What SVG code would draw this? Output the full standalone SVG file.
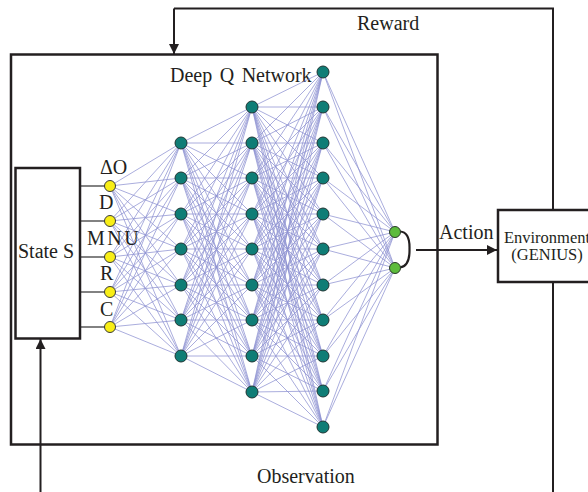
<svg xmlns="http://www.w3.org/2000/svg" width="588" height="492" viewBox="0 0 588 492">
<defs>
<style>
.t{font-family:"Liberation Serif","Times New Roman",serif;font-size:20px;fill:#231f20}
.box{fill:none;stroke:#231f20;stroke-width:2.5}
.wire{fill:none;stroke:#231f20;stroke-width:2}
.syn{fill:none;stroke:#8d91d2;stroke-width:0.75}
.y{fill:#f8ee16;stroke:#3a3a3a;stroke-width:1}
.h{fill:#0f7d76;stroke:#1f3533;stroke-width:1}
.o{fill:#5cbb3c;stroke:#2a3a2a;stroke-width:1}
</style>
<marker id="ah" viewBox="0 0 10 10" refX="10" refY="5" markerWidth="10" markerHeight="10" markerUnits="userSpaceOnUse" orient="auto">
<path d="M0 0L10 5L0 10z" fill="#231f20"/>
</marker>
</defs>
<rect width="588" height="492" fill="#fff"/>

<g id="dqn">
<rect class="box" x="11" y="54.5" width="426.5" height="390"/>
<text class="t" x="170" y="82" style="word-spacing:2.5px">Deep Q Network</text>
</g>

<g id="connectors">
<path class="syn" d="M110 186L181 143M110 186L181 178M110 186L181 214M110 186L181 249M110 186L181 285M110 186L181 320M110 186L181 356M110 221L181 143M110 221L181 178M110 221L181 214M110 221L181 249M110 221L181 285M110 221L181 320M110 221L181 356M110 257L181 143M110 257L181 178M110 257L181 214M110 257L181 249M110 257L181 285M110 257L181 320M110 257L181 356M110 292L181 143M110 292L181 178M110 292L181 214M110 292L181 249M110 292L181 285M110 292L181 320M110 292L181 356M110 327L181 143M110 327L181 178M110 327L181 214M110 327L181 249M110 327L181 285M110 327L181 320M110 327L181 356"/>
<path class="syn" d="M181 143L252 107M181 143L252 143M181 143L252 178M181 143L252 214M181 143L252 249M181 143L252 285M181 143L252 320M181 143L252 356M181 143L252 392M181 178L252 107M181 178L252 143M181 178L252 178M181 178L252 214M181 178L252 249M181 178L252 285M181 178L252 320M181 178L252 356M181 178L252 392M181 214L252 107M181 214L252 143M181 214L252 178M181 214L252 214M181 214L252 249M181 214L252 285M181 214L252 320M181 214L252 356M181 214L252 392M181 249L252 107M181 249L252 143M181 249L252 178M181 249L252 214M181 249L252 249M181 249L252 285M181 249L252 320M181 249L252 356M181 249L252 392M181 285L252 107M181 285L252 143M181 285L252 178M181 285L252 214M181 285L252 249M181 285L252 285M181 285L252 320M181 285L252 356M181 285L252 392M181 320L252 107M181 320L252 143M181 320L252 178M181 320L252 214M181 320L252 249M181 320L252 285M181 320L252 320M181 320L252 356M181 320L252 392M181 356L252 107M181 356L252 143M181 356L252 178M181 356L252 214M181 356L252 249M181 356L252 285M181 356L252 320M181 356L252 356M181 356L252 392"/>
<path class="syn" d="M252 107L323 72M252 107L323 107M252 107L323 143M252 107L323 178M252 107L323 214M252 107L323 249M252 107L323 285M252 107L323 320M252 107L323 356M252 107L323 391M252 107L323 427M252 143L323 72M252 143L323 107M252 143L323 143M252 143L323 178M252 143L323 214M252 143L323 249M252 143L323 285M252 143L323 320M252 143L323 356M252 143L323 391M252 143L323 427M252 178L323 72M252 178L323 107M252 178L323 143M252 178L323 178M252 178L323 214M252 178L323 249M252 178L323 285M252 178L323 320M252 178L323 356M252 178L323 391M252 178L323 427M252 214L323 72M252 214L323 107M252 214L323 143M252 214L323 178M252 214L323 214M252 214L323 249M252 214L323 285M252 214L323 320M252 214L323 356M252 214L323 391M252 214L323 427M252 249L323 72M252 249L323 107M252 249L323 143M252 249L323 178M252 249L323 214M252 249L323 249M252 249L323 285M252 249L323 320M252 249L323 356M252 249L323 391M252 249L323 427M252 285L323 72M252 285L323 107M252 285L323 143M252 285L323 178M252 285L323 214M252 285L323 249M252 285L323 285M252 285L323 320M252 285L323 356M252 285L323 391M252 285L323 427M252 320L323 72M252 320L323 107M252 320L323 143M252 320L323 178M252 320L323 214M252 320L323 249M252 320L323 285M252 320L323 320M252 320L323 356M252 320L323 391M252 320L323 427M252 356L323 72M252 356L323 107M252 356L323 143M252 356L323 178M252 356L323 214M252 356L323 249M252 356L323 285M252 356L323 320M252 356L323 356M252 356L323 391M252 356L323 427M252 392L323 72M252 392L323 107M252 392L323 143M252 392L323 178M252 392L323 214M252 392L323 249M252 392L323 285M252 392L323 320M252 392L323 356M252 392L323 391M252 392L323 427"/>
<path class="syn" d="M323 72L395 232M323 72L395 268M323 107L395 232M323 107L395 268M323 143L395 232M323 143L395 268M323 178L395 232M323 178L395 268M323 214L395 232M323 214L395 268M323 249L395 232M323 249L395 268M323 285L395 232M323 285L395 268M323 320L395 232M323 320L395 268M323 356L395 232M323 356L395 268M323 391L395 232M323 391L395 268M323 427L395 232M323 427L395 268"/>
<path fill="none" stroke="#5a5a5a" stroke-width="1.6" d="M80 186H105M80 221H105M80 257H105M80 292H105M80 327H105"/>
<path fill="none" stroke="#231f20" stroke-width="2.2" d="M400 231.5Q410 232 409.5 249Q410 266 400 267.5"/>
<path class="wire" d="M416 250H497" marker-end="url(#ah)"/>
<path class="wire" d="M174 8.5V54" marker-end="url(#ah)"/>
<path class="wire" d="M174 8.5H553V210"/>
<path class="wire" d="M553 282V492"/>
<path class="wire" d="M40.5 492V339" marker-end="url(#ah)"/>
<text class="t" x="357" y="30">Reward</text>
<text class="t" x="439" y="239">Action</text>
<text class="t" x="257" y="483">Observation</text>
</g>

<g id="state">
<rect class="box" x="15.5" y="168" width="64.5" height="170.5"/>
<text class="t" x="18" y="258">State S</text>
</g>

<g id="environment">
<rect class="box" x="498" y="210" width="100" height="72"/>
<text class="t" x="547" y="242.5" text-anchor="middle" style="font-size:16.5px">Environment</text>
<text class="t" x="547" y="259.5" text-anchor="middle" style="font-size:16.5px">(GENIUS)</text>
</g>

<g id="inputs">
<text class="t" x="100" y="174">ΔO</text>
<text class="t" x="99" y="209">D</text>
<text class="t" x="87" y="245" style="letter-spacing:2.5px">MNU</text>
<text class="t" x="100" y="280">R</text>
<text class="t" x="100" y="316">C</text>
<circle class="y" cx="110" cy="186" r="5.5"/>
<circle class="y" cx="110" cy="221" r="5.5"/>
<circle class="y" cx="110" cy="257" r="5.5"/>
<circle class="y" cx="110" cy="292" r="5.5"/>
<circle class="y" cx="110" cy="327" r="5.5"/>
</g>

<g id="hidden1">
<circle class="h" cx="181" cy="143" r="6"/>
<circle class="h" cx="181" cy="178" r="6"/>
<circle class="h" cx="181" cy="214" r="6"/>
<circle class="h" cx="181" cy="249" r="6"/>
<circle class="h" cx="181" cy="285" r="6"/>
<circle class="h" cx="181" cy="320" r="6"/>
<circle class="h" cx="181" cy="356" r="6"/>
</g>

<g id="hidden2">
<circle class="h" cx="252" cy="107" r="6"/>
<circle class="h" cx="252" cy="143" r="6"/>
<circle class="h" cx="252" cy="178" r="6"/>
<circle class="h" cx="252" cy="214" r="6"/>
<circle class="h" cx="252" cy="249" r="6"/>
<circle class="h" cx="252" cy="285" r="6"/>
<circle class="h" cx="252" cy="320" r="6"/>
<circle class="h" cx="252" cy="356" r="6"/>
<circle class="h" cx="252" cy="392" r="6"/>
</g>

<g id="hidden3">
<circle class="h" cx="323" cy="72" r="6"/>
<circle class="h" cx="323" cy="107" r="6"/>
<circle class="h" cx="323" cy="143" r="6"/>
<circle class="h" cx="323" cy="178" r="6"/>
<circle class="h" cx="323" cy="214" r="6"/>
<circle class="h" cx="323" cy="249" r="6"/>
<circle class="h" cx="323" cy="285" r="6"/>
<circle class="h" cx="323" cy="320" r="6"/>
<circle class="h" cx="323" cy="356" r="6"/>
<circle class="h" cx="323" cy="391" r="6"/>
<circle class="h" cx="323" cy="427" r="6"/>
</g>

<g id="outputs">
<circle class="o" cx="395" cy="232" r="5.5"/>
<circle class="o" cx="395" cy="268" r="5.5"/>
</g>
</svg>
